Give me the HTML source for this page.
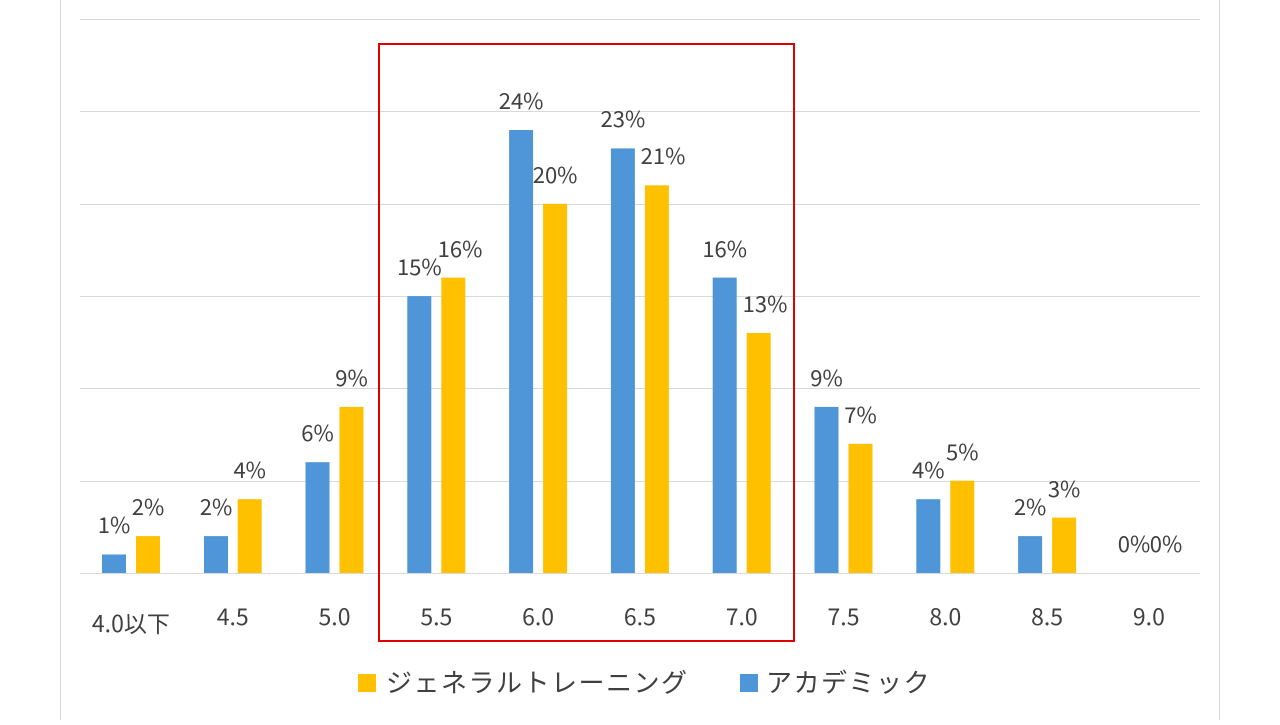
<!DOCTYPE html>
<html><head><meta charset="utf-8"><style>
body{margin:0;background:#fff;}
svg text{font-family:"Noto Sans CJK JP","Liberation Sans",sans-serif;fill:#404040;}
.l{font-size:22px;text-anchor:middle;}
.c{font-size:23px;text-anchor:middle;}
</style></head><body>
<svg width="1280" height="720" xmlns="http://www.w3.org/2000/svg">
<rect x="60.5" y="-1" width="1159" height="722" fill="#fff" stroke="#d9d9d9"/>
<g stroke="#d9d9d9" stroke-width="1">
<line x1="80" x2="1200" y1="19.5" y2="19.5"/>
<line x1="80" x2="1200" y1="111.5" y2="111.5"/>
<line x1="80" x2="1200" y1="204.5" y2="204.5"/>
<line x1="80" x2="1200" y1="296.5" y2="296.5"/>
<line x1="80" x2="1200" y1="388.5" y2="388.5"/>
<line x1="80" x2="1200" y1="481.5" y2="481.5"/>
<line x1="80" x2="1200" y1="573.5" y2="573.5"/>
</g>
<g fill="#4f96d8">
<rect x="102" y="554.5" width="24" height="18.5"/>
<rect x="204" y="536.1" width="24" height="36.9"/>
<rect x="305.5" y="462.2" width="24" height="110.8"/>
<rect x="407.3" y="296.1" width="24" height="276.9"/>
<rect x="509.1" y="130" width="24" height="443"/>
<rect x="610.9" y="148.4" width="24" height="424.6"/>
<rect x="712.7" y="277.6" width="24" height="295.4"/>
<rect x="814.5" y="406.9" width="24" height="166.1"/>
<rect x="916.3" y="499.2" width="24" height="73.8"/>
<rect x="1018.1" y="536.1" width="24" height="36.9"/>
</g>
<g fill="#ffc000">
<rect x="136" y="536.1" width="24" height="36.9"/>
<rect x="237.7" y="499.2" width="24" height="73.8"/>
<rect x="339.5" y="406.9" width="24" height="166.1"/>
<rect x="441.3" y="277.6" width="24" height="295.4"/>
<rect x="543.1" y="203.8" width="24" height="369.2"/>
<rect x="644.9" y="185.3" width="24" height="387.7"/>
<rect x="746.7" y="333" width="24" height="240"/>
<rect x="848.5" y="443.8" width="24" height="129.2"/>
<rect x="950.3" y="480.7" width="24" height="92.3"/>
<rect x="1052.1" y="517.6" width="24" height="55.4"/>
</g>
<text class="l" x="114" y="533">1%</text>
<text class="l" x="148" y="515">2%</text>
<text class="l" x="216" y="515">2%</text>
<text class="l" x="249.7" y="478">4%</text>
<text class="l" x="317.5" y="441">6%</text>
<text class="l" x="351.5" y="386">9%</text>
<text class="l" x="419.3" y="275">15%</text>
<text class="l" x="460" y="257">16%</text>
<text class="l" x="521.1" y="109">24%</text>
<text class="l" x="555.1" y="183">20%</text>
<text class="l" x="622.9" y="127">23%</text>
<text class="l" x="663" y="164">21%</text>
<text class="l" x="724.7" y="257">16%</text>
<text class="l" x="765" y="312">13%</text>
<text class="l" x="826.5" y="386">9%</text>
<text class="l" x="860.5" y="423">7%</text>
<text class="l" x="928.3" y="478">4%</text>
<text class="l" x="962.3" y="460">5%</text>
<text class="l" x="1030.1" y="515">2%</text>
<text class="l" x="1064.1" y="497">3%</text>
<text class="l" x="1134" y="552">0%</text>
<text class="l" x="1166" y="552">0%</text>
<text class="c" x="130.9" y="632">4.0以下</text>
<text class="c" x="232.7" y="625">4.5</text>
<text class="c" x="334.5" y="625">5.0</text>
<text class="c" x="436.3" y="625">5.5</text>
<text class="c" x="538.1" y="625">6.0</text>
<text class="c" x="639.9" y="625">6.5</text>
<text class="c" x="741.7" y="625">7.0</text>
<text class="c" x="843.5" y="625">7.5</text>
<text class="c" x="945.3" y="625">8.0</text>
<text class="c" x="1047.1" y="625">8.5</text>
<text class="c" x="1148.9" y="625">9.0</text>
<rect x="379" y="44" width="415" height="597" fill="none" stroke="#e00000" stroke-width="2"/>
<rect x="358" y="674" width="18" height="18" fill="#ffc000"/>
<text x="386" y="692" font-size="26" letter-spacing="1.5">ジェネラルトレーニング</text>
<rect x="740" y="674" width="18" height="18" fill="#4f96d8"/>
<text x="766" y="692" font-size="26" letter-spacing="1.5">アカデミック</text>
</svg>
</body></html>
